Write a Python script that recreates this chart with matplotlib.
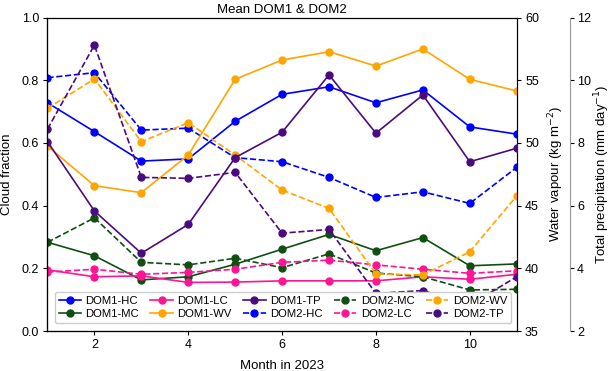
import numpy as np
import matplotlib
matplotlib.use("Agg")
import matplotlib.pyplot as plt

plt.rcParams["font.family"] = ["Liberation Sans", "DejaVu Sans"]

months = np.arange(1, 12)

dom1_hc = [0.728, 0.636, 0.542, 0.549, 0.669, 0.755, 0.779, 0.728, 0.769, 0.651, 0.628]
dom1_mc = [0.283, 0.240, 0.163, 0.173, 0.213, 0.261, 0.308, 0.256, 0.298, 0.208, 0.214]
dom1_lc = [0.195, 0.173, 0.176, 0.155, 0.156, 0.160, 0.160, 0.160, 0.173, 0.165, 0.181]
dom2_hc = [0.808, 0.824, 0.641, 0.647, 0.553, 0.540, 0.490, 0.426, 0.444, 0.407, 0.522]
dom2_mc = [0.283, 0.361, 0.219, 0.211, 0.232, 0.202, 0.246, 0.185, 0.173, 0.131, 0.133]
dom2_lc = [0.188, 0.197, 0.181, 0.187, 0.197, 0.219, 0.226, 0.211, 0.197, 0.184, 0.192]

dom1_wv = [49.75, 46.59, 46.03, 49.03, 55.07, 56.61, 57.27, 56.13, 57.49, 55.07, 54.14]
dom2_wv = [52.76, 55.10, 50.10, 51.61, 49.03, 46.24, 44.78, 39.55, 39.47, 41.32, 45.77]

dom1_tp = [8.04, 5.83, 4.48, 5.40, 7.53, 8.34, 10.17, 8.31, 9.53, 7.40, 7.83]
dom2_tp = [8.44, 11.12, 6.90, 6.87, 7.06, 5.12, 5.24, 3.20, 3.29, 2.83, 3.73]

c_hc = "#0000ff"
c_mc = "#0f4f12"
c_lc = "#ff1493"
c_wv = "#ffa500"
c_tp = "#4b0a7f"

fig = plt.figure(figsize=(6.11, 3.71), dpi=100)
ax = fig.add_axes([0.0777, 0.1078, 0.768, 0.845])
ax2 = ax.twinx()
ax3 = ax.twinx()
ax3.spines["right"].set_position(("axes", 1.114))

kw = dict(lw=1.2, marker="o", ms=5)
h = {}
h["DOM1-HC"], = ax.plot(months, dom1_hc, "-", color=c_hc, **kw)
h["DOM1-MC"], = ax.plot(months, dom1_mc, "-", color=c_mc, **kw)
h["DOM1-LC"], = ax.plot(months, dom1_lc, "-", color=c_lc, **kw)
h["DOM2-HC"], = ax.plot(months, dom2_hc, "--", color=c_hc, **kw)
h["DOM2-MC"], = ax.plot(months, dom2_mc, "--", color=c_mc, **kw)
h["DOM2-LC"], = ax.plot(months, dom2_lc, "--", color=c_lc, **kw)
h["DOM1-WV"], = ax2.plot(months, dom1_wv, "-", color=c_wv, **kw)
h["DOM2-WV"], = ax2.plot(months, dom2_wv, "--", color=c_wv, **kw)
h["DOM1-TP"], = ax3.plot(months, dom1_tp, "-", color=c_tp, **kw)
h["DOM2-TP"], = ax3.plot(months, dom2_tp, "--", color=c_tp, **kw)

ax.set_xlim(1, 11)
ax.set_xticks([2, 4, 6, 8, 10])
ax.set_ylim(0, 1)
ax.set_yticks(np.arange(0, 1.01, 0.2))
ax2.set_ylim(35, 60)
ax2.set_yticks(range(35, 61, 5))
ax3.set_ylim(2, 12)
ax3.set_yticks(range(2, 13, 2))

ax.set_xlabel("Month in 2023", fontsize=9.5, labelpad=6)
ax.set_ylabel("Cloud fraction", fontsize=9.5, labelpad=6)
ax2.set_ylabel("Water vapour (kg m$^{-2}$)", fontsize=9.5, labelpad=5)
ax3.set_ylabel("Total precipitation (mm day$^{-1}$)", fontsize=9.5, labelpad=1)
ax.set_title("Mean DOM1 & DOM2", fontsize=9.5, pad=3)

for a in (ax, ax2, ax3):
    a.tick_params(labelsize=9, length=3, pad=3)
ax3.tick_params(pad=2)
ax.spines["top"].set_color("#999999")
ax3.spines["right"].set_color("#999999")

order = ["DOM1-HC", "DOM1-MC", "DOM1-LC", "DOM1-WV", "DOM1-TP",
         "DOM2-HC", "DOM2-MC", "DOM2-LC", "DOM2-WV", "DOM2-TP"]
ax3.legend([h[k] for k in order], order, ncol=5, loc="lower left",
           bbox_to_anchor=(0.008, 0.015), fontsize=8.1, handlelength=2.0,
           columnspacing=1.0, handletextpad=0.4, labelspacing=0.25,
           borderpad=0.35, borderaxespad=0.3, framealpha=1, fancybox=True)

fig.savefig("out.png", dpi=100)
